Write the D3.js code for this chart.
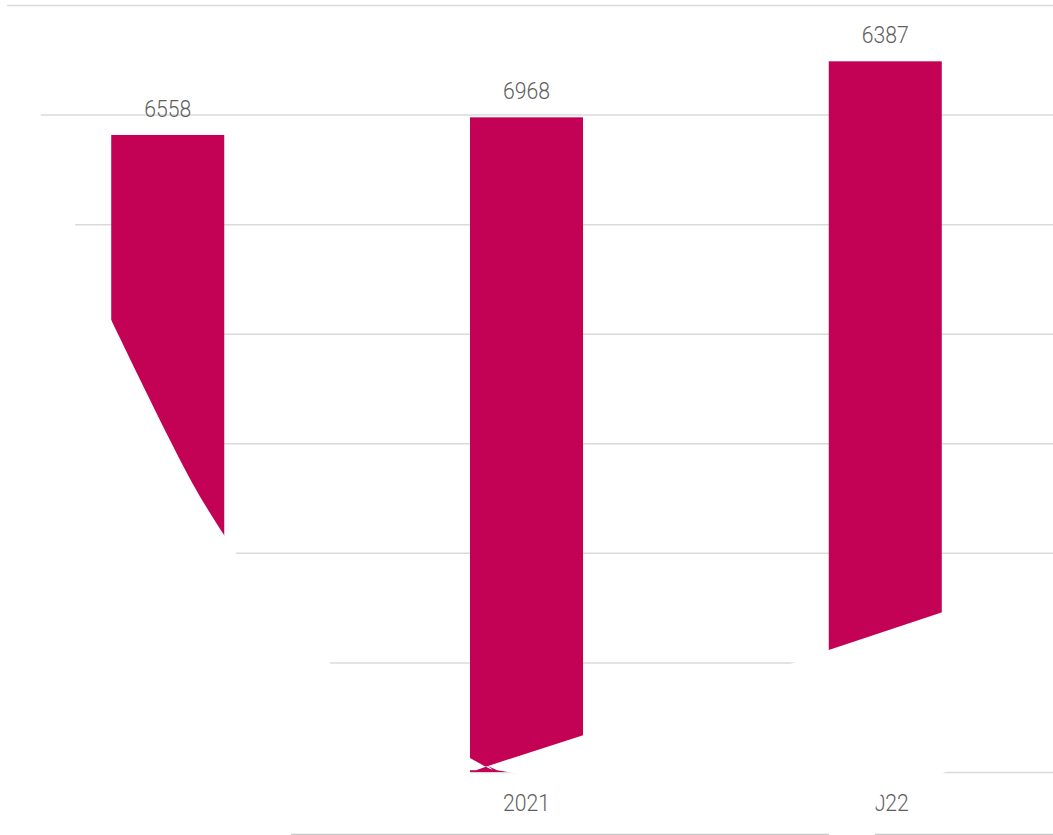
<!DOCTYPE html>
<html>
<head>
<meta charset="utf-8">
<script src="https://cdn.jsdelivr.net/npm/d3@7"></script>
<style>
  html, body { margin: 0; padding: 0; background: #ffffff; }
  svg { display: block; }
</style>
</head>
<body>
<svg id="chart" width="1053" height="835"></svg>
<script>
// ---------------- data ----------------
const categories = ["2020", "2021", "2022"];
const labelValues = [6558, 6968, 6387];          // printed data labels
const barValues = [5814, 5975, 6486];            // bar heights read against the gridlines
const gridTicks = [0, 1000, 2000, 3000, 4000, 5000, 6000, 7000];

// white occluding shapes, in chart units: [band position (0 = first bar centre), value]
const occluderLeftEdge = [
  [-0.4507, 7064], [-0.4479, 7000], [-0.2584, 5001], [-0.1575, 4125], [0.0156, 2969],
  [0.1589, 2154], [0.4495, 1004], [0.8425, 128], [0.8927, 55]
];
const occluderLeftRest = [
  [0.8593, 16], [0.842, 16], [0.842, -18], [0.5917, -256], [0.3437, -548],
  [0.3437, -600], [-0.48, -600], [-0.48, 7064]
];
const occluderRight = [
  [0.8927, 55], [1.16, 338], [1.4836, 684], [1.7539, 1008], [1.8425, 1113],
  [2.1608, 1460], [2.48, 1810], [2.48, 292], [2.1719, 5], [2.0828, -110],
  [1.9852, -210], [1.9685, -365], [1.9713, -600], [1.8431, -600], [1.8431, -538],
  [1.4836, -329], [1.0655, -73], [0.9317, 9], [0.9178, 16]
];

// ---------------- layout ----------------
const W = 1053, H = 835;
const margin = { top: 5 };
const innerH = 767;
const barColor = "#c40255";
const textColor = "#5e5e5e";
const fontFamily = "Roboto, 'Open Sans', sans-serif";

const svg = d3.select("#chart");
const g = svg.append("g").attr("transform", `translate(0,${margin.top})`);

const x = d3.scaleBand()
  .domain(categories)
  .range([0, W])
  .paddingInner(0.685)
  .paddingOuter(0.31);

const y = d3.scaleLinear()
  .domain([0, 7000])
  .range([innerH, 0]);

// continuous band-unit scale used for the occluders
const xc = d3.scaleLinear()
  .domain([0, 1])
  .range([x(categories[0]) + x.bandwidth() / 2, x(categories[1]) + x.bandwidth() / 2]);

// gridlines
const grid = g.append("g")
  .call(d3.axisLeft(y).tickValues(gridTicks).tickSize(-W).tickFormat(""));
grid.select(".domain").remove();
grid.selectAll(".tick line")
  .attr("stroke", "#dadada")
  .attr("stroke-width", 1.5);

// category axis (line at the very bottom, labels above it)
const xAxis = g.append("g")
  .attr("transform", `translate(0,${innerH + 62})`)
  .call(d3.axisTop(x).tickSizeInner(0).tickSizeOuter(0).tickPadding(23));
xAxis.select(".domain")
  .attr("stroke", "#c8c8c8")
  .attr("stroke-width", 1.3);
xAxis.selectAll(".tick text")
  .attr("fill", textColor)
  .attr("font-family", fontFamily)
  .attr("font-weight", 300)
  .attr("font-size", 24)
  .attr("textLength", 47)
  .attr("lengthAdjust", "spacingAndGlyphs");

// bars
const rows = categories.map((c, i) => ({ c, v: barValues[i], label: labelValues[i] }));

g.append("g").selectAll("rect")
  .data(rows)
  .join("rect")
  .attr("x", d => x(d.c))
  .attr("y", d => y(d.v))
  .attr("width", x.bandwidth())
  .attr("height", d => y(0) - y(d.v))
  .attr("fill", barColor);

// data labels
g.append("g").selectAll("text")
  .data(rows)
  .join("text")
  .attr("x", d => x(d.c) + x.bandwidth() / 2)
  .attr("y", d => y(d.v) - 18)
  .attr("text-anchor", "middle")
  .attr("fill", textColor)
  .attr("font-family", fontFamily)
  .attr("font-weight", 300)
  .attr("font-size", 24)
  .attr("textLength", 47)
  .attr("lengthAdjust", "spacingAndGlyphs")
  .text(d => d.label);

// occluders
const smooth = d3.line().x(d => xc(d[0])).y(d => y(d[1])).curve(d3.curveNatural);
const straight = d3.line().x(d => xc(d[0])).y(d => y(d[1]));
const leftPath = smooth(occluderLeftEdge) + "L" + straight(occluderLeftRest).slice(1) + "Z";
const rightPath = straight(occluderRight) + "Z";

g.append("g").selectAll("path")
  .data([leftPath, rightPath])
  .join("path")
  .attr("d", d => d)
  .attr("fill", "#ffffff");
</script>
</body>
</html>
